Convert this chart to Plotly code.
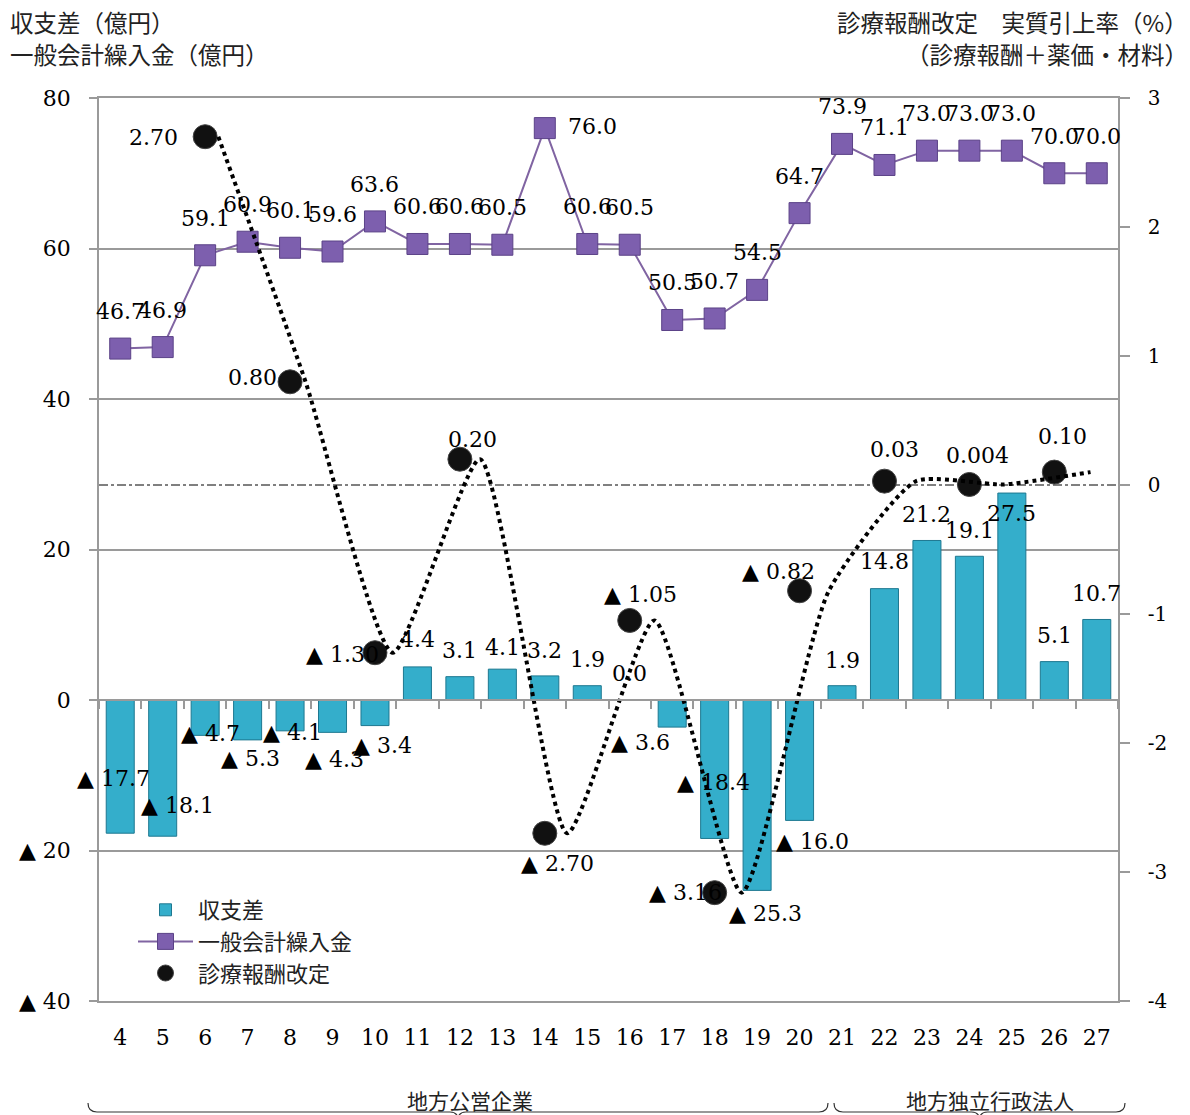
import plotly.graph_objects as go

# ---------------- data ----------------
categories = [4, 5, 6, 7, 8, 9, 10, 11, 12, 13, 14, 15, 16, 17, 18, 19, 20, 21, 22, 23, 24, 25, 26, 27]
balance = [-17.7, -18.1, -4.7, -5.3, -4.1, -4.3, -3.4, 4.4, 3.1, 4.1, 3.2, 1.9, 0.0, -3.6,
           -18.4, -25.3, -16.0, 1.9, 14.8, 21.2, 19.1, 27.5, 5.1, 10.7]
transfer = [46.7, 46.9, 59.1, 60.9, 60.1, 59.6, 63.6, 60.6, 60.6, 60.5, 76.0, 60.6, 60.5, 50.5,
            50.7, 54.5, 64.7, 73.9, 71.1, 73.0, 73.0, 73.0, 70.0, 70.0]
revision_x = [6, 8, 10, 12, 14, 16, 18, 20, 22, 24, 26]
revision = [2.70, 0.80, -1.30, 0.20, -2.70, -1.05, -3.16, -0.82, 0.03, 0.004, 0.10]

left_ticks = [-40, -20, 0, 20, 40, 60, 80]
right_ticks = [-4, -3, -2, -1, 0, 1, 2, 3]

# ---------------- styles / label offsets (px: dx right, dy down) ----------------
bar_off = [(-7, -55), (15, -31), (5, -2), (3, 19), (2, 2), (2, 27), (8, 20), (0, -27), (0, -26),
           (0, -22), (0, -25), (0, -26), (0, -27), (-32, 15), (-1, -56), (8, 23), (13, 21),
           (0, -25), (0, -27), (0, -26), (0, -26), (0, 20), (0, -26), (0, -26)]
line_off = [(0, -37)] * len(transfer)
line_off[10] = (48, -2)
rev_off = [(-52, 1), (-38, -4), (-32, 2), (13, -20), (13, 30), (11, -26), (-29, 0),
           (-21, -19), (10, -32), (8, -29), (8, -36)]

SERIF = "DejaVu Serif"
JP = "Noto Sans CJK JP"
GRID = "#9a9a9a"

W, H = 1190, 1115
ML, MR, MT, MB = 99, 72, 98, 114
PW, PH = W - ML - MR, H - MT - MB


def fmt1(v):
    return ("▲ " if v < 0 else "") + f"{abs(v):.1f}"


def fmt_rev(v):
    a = abs(v)
    s = f"{a:.2f}" if round(a, 2) == a else f"{a:.3f}"
    return ("▲ " if v < 0 else "") + s


def px(x):
    return (x - ML) / PW


def py(y):
    return (MT + PH - y) / PH


fig = go.Figure()

fig.add_trace(go.Bar(
    x=categories, y=balance, name="収支差", width=0.66,
    marker=dict(color="#34AECB", line=dict(color="#1E7890", width=1)),
    xaxis="x", yaxis="y"))

fig.add_trace(go.Scatter(
    x=categories, y=transfer, name="一般会計繰入金", mode="lines+markers",
    line=dict(color="#8064A2", width=2),
    marker=dict(symbol="square", size=21, color="#7D5FAE", line=dict(color="#5B4287", width=1)),
    xaxis="x", yaxis="y"))

# smoothed dotted trend of the revision rate (drawn on a shifted category axis)
fig.add_trace(go.Scatter(
    x=revision_x, y=revision, mode="lines", showlegend=False, hoverinfo="skip",
    line=dict(color="black", width=4, dash="dot", shape="spline", smoothing=0.55),
    xaxis="x3", yaxis="y2"))

fig.add_trace(go.Scatter(
    x=revision_x, y=revision, name="診療報酬改定", mode="markers",
    marker=dict(symbol="circle", size=24, color="#111111", line=dict(color="#444444", width=1)),
    xaxis="x", yaxis="y2"))

# invisible trace for the zero-line tick axis
fig.add_trace(go.Scatter(x=[None], y=[None], showlegend=False, xaxis="x4", yaxis="y", hoverinfo="skip"))

ann = []
lab_font = dict(family=SERIF, size=22, color="black")
for c, v, (dx, dy) in zip(categories, balance, bar_off):
    ann.append(dict(x=c, y=v, xref="x", yref="y", text=fmt1(v), showarrow=False,
                    xshift=dx, yshift=-dy, font=lab_font))
for c, v, (dx, dy) in zip(categories, transfer, line_off):
    ann.append(dict(x=c, y=v, xref="x", yref="y", text=f"{v:.1f}", showarrow=False,
                    xshift=dx, yshift=-dy, font=lab_font))
for c, v, (dx, dy) in zip(revision_x, revision, rev_off):
    ann.append(dict(x=c, y=v, xref="x", yref="y2", text=fmt_rev(v), showarrow=False,
                    xshift=dx, yshift=-dy, font=lab_font))

jp_font = dict(family=JP, size=23.5, color="#222222")
ann += [
    dict(x=px(8), y=py(22), xref="paper", yref="paper", text="収支差（億円）", showarrow=False,
         xanchor="left", yanchor="middle", font=jp_font),
    dict(x=px(8), y=py(54), xref="paper", yref="paper", text="一般会計繰入金（億円）", showarrow=False,
         xanchor="left", yanchor="middle", font=jp_font),
    dict(x=px(1190), y=py(22), xref="paper", yref="paper", text="診療報酬改定　実質引上率（%）",
         showarrow=False, xanchor="right", yanchor="middle", font=jp_font),
    dict(x=px(1190), y=py(54), xref="paper", yref="paper", text="（診療報酬＋薬価・材料）",
         showarrow=False, xanchor="right", yanchor="middle", font=jp_font),
    dict(x=px(470), y=py(1100), xref="paper", yref="paper", text="地方公営企業", showarrow=False,
         xanchor="center", yanchor="middle", font=dict(family=JP, size=21, color="#222222")),
    dict(x=px(990), y=py(1100), xref="paper", yref="paper", text="地方独立行政法人", showarrow=False,
         xanchor="center", yanchor="middle", font=dict(family=JP, size=21, color="#222222")),
]


def brace(x0, x1, ytop=1103, ybot=1112):
    xm = (x0 + x1) / 2
    pts = (f"M {px(x0)},{py(ytop)} Q {px(x0)},{py(ybot)} {px(x0 + 9)},{py(ybot)} "
           f"L {px(xm - 8)},{py(ybot)} Q {px(xm)},{py(ybot)} {px(xm)},{py(ybot + 8)} "
           f"Q {px(xm)},{py(ybot)} {px(xm + 8)},{py(ybot)} "
           f"L {px(x1 - 9)},{py(ybot)} Q {px(x1)},{py(ybot)} {px(x1)},{py(ytop)}")
    return dict(type="path", path=pts, xref="paper", yref="paper",
                line=dict(color="#333333", width=1.2))


shapes = [
    dict(type="line", xref="paper", x0=0, x1=1, yref="y2", y0=0, y1=0, layer="below",
         line=dict(color="black", width=1, dash="dashdot")),
    brace(88, 828),
    brace(834, 1125),
]

fig.update_layout(
    width=W, height=H, autosize=False,
    margin=dict(l=ML, r=MR, t=MT, b=MB, pad=0),
    paper_bgcolor="white", plot_bgcolor="white",
    showlegend=True,
    legend=dict(x=px(133), y=py(889), xanchor="left", yanchor="top",
                font=dict(family=JP, size=22, color="#222222"),
                bgcolor="rgba(0,0,0,0)", itemwidth=55, tracegroupgap=0, traceorder="normal"),
    bargap=0.35,
    xaxis=dict(range=[3.5, 27.5], tickmode="array", tickvals=categories,
               ticktext=[str(c) for c in categories], ticks="", showgrid=False,
               showline=True, mirror=True, linecolor=GRID, linewidth=1.5, zeroline=False,
               tickfont=dict(family=SERIF, size=22, color="black"), ticklabelstandoff=16),
    xaxis3=dict(overlaying="x", range=[3.264, 26.63], visible=False, anchor="y2"),
    xaxis4=dict(overlaying="x", anchor="free", position=40 / 120, range=[3.5, 27.5],
                tickmode="array", tickvals=[c - 0.5 for c in categories] + [27.5],
                ticks="outside", ticklen=8, tickwidth=1.5, tickcolor=GRID, showticklabels=False,
                showline=True, linecolor=GRID, linewidth=1.5, showgrid=False, zeroline=False),
    yaxis=dict(range=[-40, 80], tickmode="array", tickvals=left_ticks,
               ticktext=[("▲ " + str(abs(t))) if t < 0 else str(t) for t in left_ticks],
               ticks="outside", ticklen=8, tickwidth=1.5, tickcolor=GRID,
               showline=True, linecolor=GRID, linewidth=1.5, showgrid=True, gridcolor=GRID,
               gridwidth=1.5, zeroline=False, ticklabelstandoff=14,
               tickfont=dict(family=SERIF, size=22, color="black")),
    yaxis2=dict(overlaying="y", side="right", range=[-4, 3], tickmode="array",
                tickvals=right_ticks, ticktext=[str(t) for t in right_ticks],
                ticks="outside", ticklen=10, tickwidth=1.5, tickcolor=GRID,
                showline=True, linecolor=GRID, linewidth=1.5, showgrid=False, zeroline=False,
                ticklabelstandoff=14, tickfont=dict(family=SERIF, size=20, color="black")),
    annotations=ann,
    shapes=shapes,
)

fig.write_html("out.html")
